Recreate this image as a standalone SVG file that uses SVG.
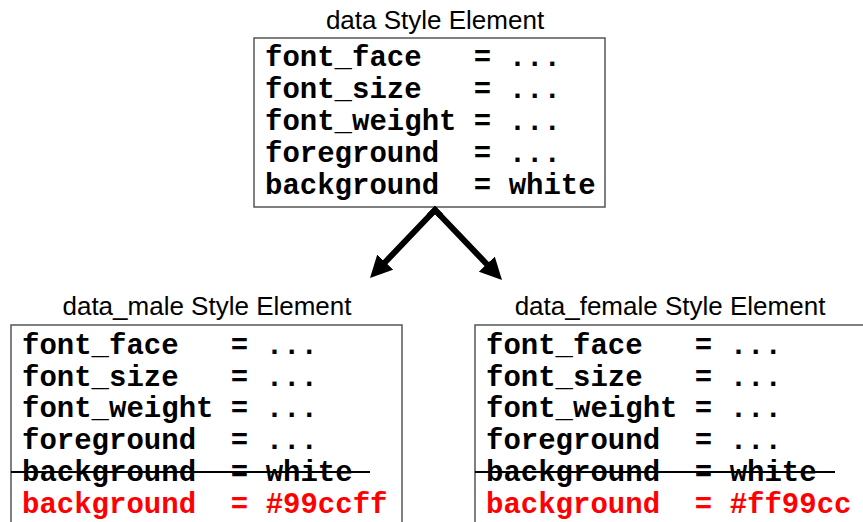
<svg xmlns="http://www.w3.org/2000/svg" width="863" height="522" viewBox="0 0 863 522">
  <defs>
    <marker id="arrowhead" viewBox="0 0 10 10" refX="1" refY="5" markerWidth="22" markerHeight="22" markerUnits="userSpaceOnUse" orient="auto">
      <path d="M0,0 L10,5 L0,10 z" fill="#000"/>
    </marker>
    <style>
      .box { fill: #fff; stroke: #555; stroke-width: 1.5; }
      .title { font-family: "Liberation Sans", Arial, sans-serif; font-size: 26px; fill: #000; text-anchor: middle; }
      .attr { font-family: "Liberation Mono", "Courier New", monospace; font-size: 29px; font-weight: bold; fill: #000; white-space: pre; }
      .override { fill: #ff0000; }
      .strike { stroke: #000; stroke-width: 2; }
      .edge { fill: none; stroke: #000; stroke-width: 6; stroke-linejoin: miter; }
    </style>
  </defs>
  <rect width="863" height="522" fill="#fff"/>

  <g id="data">
    <text class="title" x="435" y="29">data Style Element</text>
    <rect class="box" x="254" y="38" width="351" height="169"/>
    <text class="attr" xml:space="preserve" x="265" y="66">font_face   = ...</text>
    <text class="attr" xml:space="preserve" x="265" y="98">font_size   = ...</text>
    <text class="attr" xml:space="preserve" x="265" y="130">font_weight = ...</text>
    <text class="attr" xml:space="preserve" x="265" y="162">foreground  = ...</text>
    <text class="attr" xml:space="preserve" x="265" y="194">background  = white</text>
  </g>

  <g id="data_male">
    <text class="title" x="207" y="315">data_male Style Element</text>
    <rect class="box" x="11" y="325" width="391" height="210"/>
    <text class="attr" xml:space="preserve" x="22" y="354">font_face   = ...</text>
    <text class="attr" xml:space="preserve" x="22" y="386">font_size   = ...</text>
    <text class="attr" xml:space="preserve" x="22" y="417">font_weight = ...</text>
    <text class="attr" xml:space="preserve" x="22" y="449">foreground  = ...</text>
    <text class="attr" xml:space="preserve" x="22" y="481">background  = white</text>
    <line class="strike" x1="11" y1="472" x2="370" y2="472"/>
    <text class="attr override" xml:space="preserve" x="22" y="513">background  = #99ccff</text>
  </g>

  <g id="data_female">
    <text class="title" x="670" y="315">data_female Style Element</text>
    <rect class="box" x="475" y="325" width="400" height="210"/>
    <text class="attr" xml:space="preserve" x="486" y="354">font_face   = ...</text>
    <text class="attr" xml:space="preserve" x="486" y="386">font_size   = ...</text>
    <text class="attr" xml:space="preserve" x="486" y="417">font_weight = ...</text>
    <text class="attr" xml:space="preserve" x="486" y="449">foreground  = ...</text>
    <text class="attr" xml:space="preserve" x="486" y="481">background  = white</text>
    <line class="strike" x1="475" y1="472" x2="835" y2="472"/>
    <text class="attr override" xml:space="preserve" x="486" y="513">background  = #ff99cc</text>
  </g>

  <g id="connectors">
    <path class="edge" d="M441,216 L435,210 L383.7,263.7" marker-end="url(#arrowhead)"/>
    <path class="edge" d="M429,216 L435,210 L488.3,265.7" marker-end="url(#arrowhead)"/>
  </g>
</svg>
